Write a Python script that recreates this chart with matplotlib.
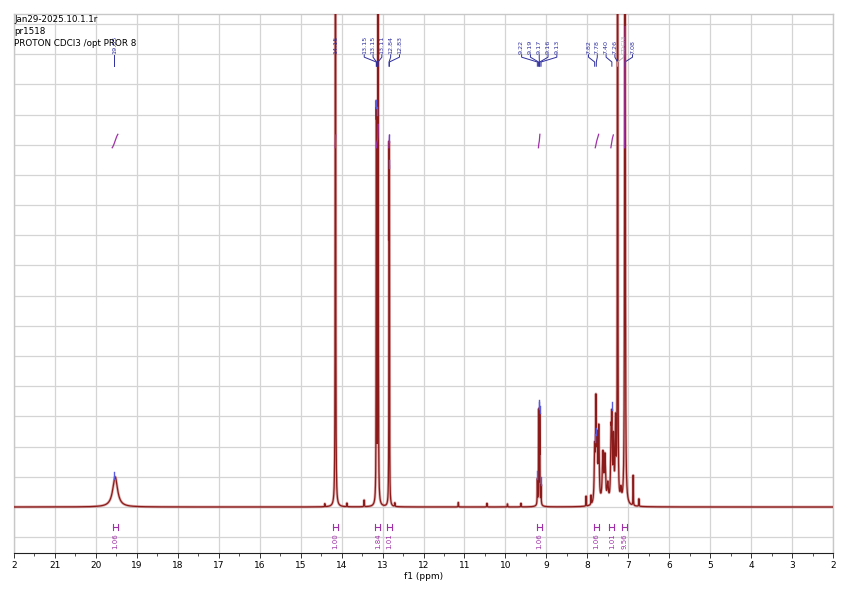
import numpy as np
import matplotlib
matplotlib.use("Agg")
import matplotlib.pyplot as plt
from matplotlib.ticker import MultipleLocator

# ---------------- data ----------------
header_lines = ["Jan29-2025.10.1.1r", "pr1518", "PROTON CDCl3 /opt PROR 8"]

# spectrum lines (ppm, relative height, FWHM in ppm)
line_ppm = [19.53, 14.41, 14.15, 13.87, 13.45, 13.153, 13.147, 13.11, 12.842, 12.833, 12.70,
            11.15, 10.45, 9.95, 9.62,
            9.22, 9.19, 9.17, 9.16, 9.13, 9.175,
            8.03, 7.91, 7.82, 7.79, 7.76, 7.72, 7.62, 7.57, 7.50, 7.42, 7.40, 7.36, 7.31,
            7.26, 7.18, 7.08, 6.88, 6.74]
line_height = [1.0, 0.10, 45.0, 0.12, 0.22, 10.0, 9.5, 35.0, 10.5, 9.5, 0.12,
               0.15, 0.12, 0.10, 0.12,
               0.8, 2.9, 2.7, 2.6, 0.6, 0.3,
               0.33, 0.30, 1.7, 3.1, 1.9, 2.4, 1.6, 1.5, 0.6, 2.1, 2.3, 2.0, 2.6,
               80.0, 0.4, 60.0, 1.0, 0.25]
line_fwhm = [0.14, 0.01, 0.008, 0.01, 0.01, 0.008, 0.008, 0.008, 0.008, 0.008, 0.01,
             0.01, 0.01, 0.01, 0.01,
             0.008, 0.006, 0.006, 0.006, 0.008, 0.06,
             0.008, 0.008, 0.025, 0.02, 0.025, 0.025, 0.035, 0.035, 0.035, 0.025, 0.02, 0.025, 0.025,
             0.006, 0.03, 0.010, 0.008, 0.01]

# peak picking labels
pick_ppm = [19.55, 14.15, 13.153, 13.147, 13.11, 12.842, 12.833,
            9.22, 9.19, 9.17, 9.16, 9.13, 7.82, 7.78, 7.40, 7.26, 7.26, 7.08]
pick_text = ["19.55", "14.15", "13.15", "13.15", "13.11", "12.84", "12.83",
             "9.22", "9.19", "9.17", "9.16", "9.13", "7.82", "7.78", "7.40", "7.26", "CDCl3", "7.08"]

# integrals
integral_from = [19.80, 14.25, 13.20, 12.90, 9.28, 7.86, 7.48, 7.22]
integral_to = [19.30, 14.05, 13.06, 12.78, 9.07, 7.66, 7.34, 6.98]
integral_value = ["1.06", "1.00", "1.84", "1.01", "1.06", "1.06", "1.01", "9.56"]

x_ticks = list(range(22, 1, -1))
x_tick_labels = ["2"] + [str(v) for v in range(21, 1, -1)]

# ---------------- figure ----------------
W, H = 848, 599
fig = plt.figure(figsize=(W / 100, H / 100), dpi=100)
ax = fig.add_axes([14 / W, 1 - 553 / H, (833 - 14) / W, (553 - 14) / H])

ppm = np.linspace(22, 2, 80001)
spec = np.zeros_like(ppm)
for p, h, w in zip(line_ppm, line_height, line_fwhm):
    hw = w / 2
    spec += h * hw ** 2 / ((ppm - p) ** 2 + hw ** 2)

ymin, ymax = -1.524, 16.33
ax.set_xlim(22, 2)
ax.set_ylim(ymin, ymax)

# grid
ax.set_yticks(np.arange(-1, 17, 1))
ax.set_xticks(x_ticks)
ax.set_xticklabels(x_tick_labels)
ax.xaxis.set_minor_locator(MultipleLocator(0.5))
ax.grid(True, which="major", color="#d4d4d4", lw=0.9, zorder=0)
ax.tick_params(axis="y", left=False, labelleft=False)
ax.tick_params(axis="x", which="major", direction="out", length=3.5, width=0.7,
               labelsize=6.5, pad=2.5, color="#333333")
ax.tick_params(axis="x", which="minor", direction="out", length=2, width=0.6, color="#333333")
for s in ["left", "right", "top"]:
    ax.spines[s].set_color("#c8c8c8")
    ax.spines[s].set_linewidth(1.0)
ax.spines["bottom"].set_color("#222222")
ax.spines["bottom"].set_linewidth(0.8)
ax.set_xlabel("f1 (ppm)", fontsize=6.5, labelpad=1)

# spectrum
ax.plot(ppm, spec, color="#b85050", lw=2.0, alpha=0.45, zorder=3)
ax.plot(ppm, spec, color="#8B1A1A", lw=0.9, zorder=4)

# pick markers
for p in sorted(set(pick_ppm)):
    v = np.interp(p, ppm[::-1], spec[::-1])
    if v < ymax - 0.3:
        ax.plot([p, p], [v, v + 0.25], color="#5A5AE0", lw=1.0, zorder=5)

# label spreading
blue = "#2E2E9E"


def spread(pos, gap):
    groups = [[q] for q in pos]
    changed = True
    while changed:
        changed = False
        new = []
        for g in groups:
            if new:
                prev = new[-1]
                prev_low = np.mean(prev) - (len(prev) - 1) * gap / 2
                cur_high = np.mean(g) + (len(g) - 1) * gap / 2
                if prev_low - cur_high < gap:
                    new[-1] = prev + g
                    changed = True
                    continue
            new.append(g)
        groups = new
    out = []
    for g in groups:
        c = np.mean(g)
        n = len(g)
        out += [c + (n - 1) * gap / 2 - i * gap for i in range(n)]
    return out


order = np.argsort(-np.array(pick_ppm), kind="stable")
sorted_ppm = [pick_ppm[i] for i in order]
sorted_text = [pick_text[i] for i in order]
label_pos = spread(sorted_ppm, 0.215)
for p, t, lx in zip(sorted_ppm, sorted_text, label_pos):
    col = "#b0b0b0" if t == "CDCl3" else blue
    ax.text(lx, 15.0, t, rotation=90, ha="center", va="bottom", fontsize=4.6,
            color=col, zorder=6)
    ax.plot([lx, lx, p, p], [14.98, 14.9, 14.74, 14.6], color=col, lw=0.7, zorder=6)

# integrals
purple = "#A030A8"
for a, b, val in zip(integral_from, integral_to, integral_value):
    m = (ppm <= a) & (ppm >= b)
    xs = ppm[m]
    cs = np.cumsum(spec[m])
    cs = (cs - cs[0]) / (cs[-1] - cs[0])
    idx = np.where((cs > 0.2) & (cs < 0.8))[0]
    i0, i1 = idx[0], idx[-1]
    seg = cs[i0:i1 + 1]
    seg = (seg - seg[0]) / (seg[-1] - seg[0])
    scale = float(val) * 0.42
    ax.plot(xs[i0:i1 + 1], 11.9 + seg * scale, color=purple, lw=0.9, zorder=6)
    c = xs[np.argmin(np.abs(cs - 0.5))]
    xa, xb = c + 0.06, c - 0.06
    ax.plot([xa, xb], [-0.66, -0.66], color=purple, lw=0.8, zorder=6)
    ax.plot([xa, xa], [-0.56, -0.76], color=purple, lw=0.8, zorder=6)
    ax.plot([xb, xb], [-0.56, -0.76], color=purple, lw=0.8, zorder=6)
    ax.text(c, -0.86, val, rotation=90, ha="center", va="top",
            fontsize=5, color=purple, zorder=6)

# header
for i, line in enumerate(header_lines):
    fig.text(14 / W, 1 - (19 + 12 * i) / H, line, fontsize=6.3, ha="left",
             va="center", color="black", zorder=10)

fig.savefig("out.png", dpi=100)
